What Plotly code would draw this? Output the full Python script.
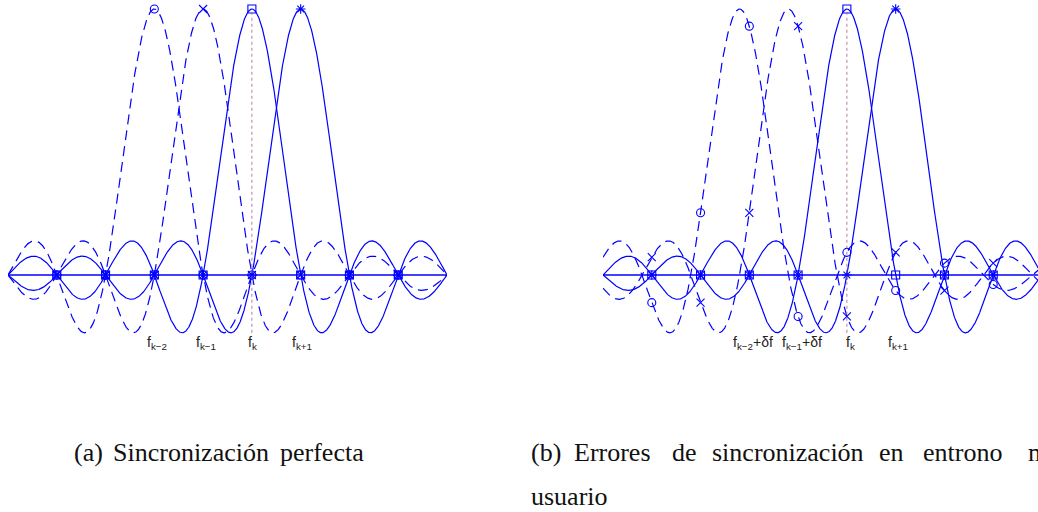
import numpy as np
import plotly.graph_objects as go

W, H = 1038, 512

# Subcarrier positions relative to f_k (units of subcarrier spacing)
centers = [-2, -1, 0, 1]
is_dashed = [True, True, False, False]
symbols = ["circle-open", "x-thin-open", "square-open", "asterisk-open"]
# Frequency error δf of the two users (panel b); zero in panel a
offsets_a = [0.0, 0.0, 0.0, 0.0]
offsets_b = [-0.2, -0.2, 0.0, 0.0]
# Points of the subcarrier grid where each spectrum is sampled
sample_points = [-4, -3, -2, -1, 0, 1, 2, 3]
freq_span = [-5, 4]

labels_a = ["f<sub>k−2</sub>", "f<sub>k−1</sub>", "f<sub>k</sub>", "f<sub>k+1</sub>"]
labels_b = ["f<sub>k−2</sub>+δf", "f<sub>k−1</sub>+δf", "f<sub>k</sub>", "f<sub>k+1</sub>"]
label_x_a = [-2.19, -1.19, -0.12, 0.78]
label_x_b = [-2.38, -1.37, -0.06, 0.80]

caption_a = ["(a)", "Sincronización", "perfecta"]
caption_a_x = [73, 112, 279]
caption_b1 = ["(b)", "Errores", "de", "sincronización", "en", "entrono", "multi-"]
caption_b1_x = [530, 573, 671, 711, 878, 922, 1027]
caption_b2 = ["usuario"]
caption_b2_x = [530]

BLUE = "rgb(0,0,255)"
fig = go.Figure()

f = np.linspace(freq_span[0], freq_span[1], 1801)
grid = np.array(sample_points, dtype=float)

panels = [("x", "y", offsets_a), ("x2", "y", offsets_b)]
for xa, ya, offs in panels:
    # zero level
    fig.add_trace(go.Scatter(x=freq_span, y=[0, 0], mode="lines",
                             line=dict(color=BLUE, width=1.4),
                             xaxis=xa, yaxis=ya, hoverinfo="skip"))
    for c, d, s, o in zip(centers, is_dashed, symbols, offs):
        fig.add_trace(go.Scatter(
            x=f, y=np.sinc(f - (c + o)), mode="lines",
            line=dict(color=BLUE, width=1.2, dash="10px,6px" if d else "solid"),
            xaxis=xa, yaxis=ya, hoverinfo="skip"))
        fig.add_trace(go.Scatter(
            x=grid, y=np.sinc(grid - (c + o)), mode="markers",
            marker=dict(symbol=s, size=8, color=BLUE,
                        line=dict(color=BLUE, width=1.1)),
            cliponaxis=False, xaxis=xa, yaxis=ya, hoverinfo="skip"))
    # dotted reference at f_k
    fig.add_trace(go.Scatter(x=[0, 0], y=[np.sinc(1.43), 1.0], mode="lines",
                             line=dict(color="rgba(170,110,150,0.9)", width=1, dash="dot"),
                             xaxis=xa, yaxis=ya, hoverinfo="skip"))

annotations = []
for xa, labs, lx in [("x", labels_a, label_x_a), ("x2", labels_b, label_x_b)]:
    for t, x in zip(labs, lx):
        annotations.append(dict(x=x, y=-0.255, xref=xa, yref="y", text=t,
                                showarrow=False, xanchor="left", yanchor="middle",
                                font=dict(family="Liberation Sans", size=14, color="#222")))

cap_font = dict(family="Liberation Serif", size=26, color="#111")
for words, xs, py in [(caption_a, caption_a_x, 452), (caption_b1, caption_b1_x, 452),
                      (caption_b2, caption_b2_x, 496)]:
    for t, px in zip(words, xs):
        annotations.append(dict(x=px / W, y=1 - py / H, xref="paper", yref="paper",
                                text=t, showarrow=False, xanchor="left", yanchor="middle",
                                font=cap_font, borderpad=0))

px_per_unit = (447 - 8) / 9.0
y_lo, y_hi = (275 - H) / 266.0, 275 / 266.0
hidden = dict(visible=False, showgrid=False, zeroline=False)
fig.update_layout(
    width=W, height=H, margin=dict(l=0, r=0, t=0, b=0),
    paper_bgcolor="white", plot_bgcolor="white", showlegend=False,
    xaxis=dict(domain=[8 / W, 447 / W], range=freq_span, **hidden),
    xaxis2=dict(domain=[603 / W, 1.0],
                range=[freq_span[0], freq_span[0] + (W - 603) / px_per_unit], **hidden),
    yaxis=dict(domain=[0, 1], range=[y_lo, y_hi], **hidden),
    annotations=annotations,
)

fig.write_html("out.html")
